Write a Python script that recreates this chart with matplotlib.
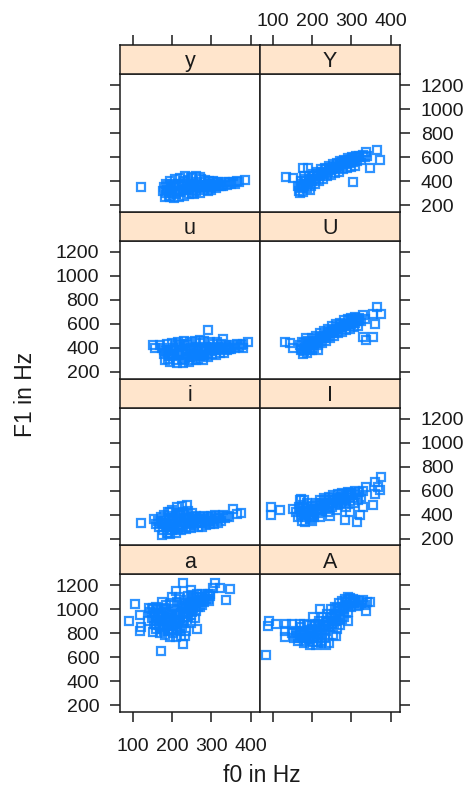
import matplotlib
matplotlib.use('Agg')
import matplotlib.pyplot as plt

plt.rcParams['font.family'] = ['Liberation Sans', 'DejaVu Sans']

# Strip labels, bottom row first (lattice order)
vowels = [['a', 'A'], ['i', 'I'], ['u', 'U'], ['y', 'Y']]

# f0 (Hz) and F1 (Hz) values, per vowel
f0 = {}
f1 = {}

f0['a'] = [105, 92, 118, 122, 118, 152, 152, 173, 228, 228, 211, 249, 262, 232, 309, 304, 338, 347, 321, 296,
           150, 155, 158, 160, 163, 165, 168, 170, 172, 175, 178, 180, 182, 185, 187, 190, 192, 195, 197, 200,
           200, 203, 205, 207, 210, 212, 213, 215, 218, 220, 222, 225, 227, 230, 232, 235, 237, 240, 242, 245,
           248, 250, 252, 255, 258, 260, 262, 265, 268, 270, 273, 276, 280, 283, 287, 290, 293, 296, 185, 175,
           200, 210, 195, 165, 160, 145, 140, 142, 222, 235, 247, 257,
           160, 170, 180, 190, 200, 210, 220, 230, 240, 250, 260, 270, 280, 290, 175, 185, 195, 205, 215, 225,
           235, 245, 255, 265, 275, 170, 180, 190, 200, 210, 220, 230, 240, 250, 160, 155, 150]
f1['a'] = [1043, 905, 955, 850, 823, 1007, 809, 652, 712, 1217, 1153, 1159, 836, 781, 1222, 1181, 1076, 1167, 1181, 1126,
           930, 880, 970, 840, 910, 1000, 870, 800, 950, 900, 840, 1010, 790, 930, 870, 980, 820, 900, 1050, 950,
           860, 800, 1000, 920, 880, 1060, 830, 970, 1100, 910, 1020, 860, 980, 1080, 940, 1030, 900, 1110, 990, 1060,
           950, 1120, 1010, 1080, 1040, 990, 1130, 1060, 1100, 1020, 1080, 1130, 1060, 1110, 1090, 1130, 1070, 1110, 1040, 1060,
           1100, 770, 770, 950, 1020, 980, 900, 1010, 780, 820, 890, 930,
           900, 930, 870, 900, 920, 950, 960, 1000, 1040, 1060, 1050, 1070, 1100, 1090, 980, 1000, 960, 880, 900, 1050,
           960, 1000, 1100, 1020, 1040, 850, 820, 860, 830, 850, 820, 900, 940, 980, 870, 960, 1000]

f0['A'] = [84, 92, 88, 109, 135, 148, 131, 131, 220, 203, 296, 338, 347, 262,
           150, 155, 160, 165, 170, 172, 178, 180, 185, 188, 192, 195, 198, 200, 203, 205, 208, 210, 213, 215,
           218, 220, 222, 225, 228, 230, 232, 235, 238, 240, 242, 245, 248, 250, 252, 255, 258, 260, 262, 265,
           268, 270, 272, 275, 278, 280, 283, 286, 290, 292, 295, 300, 303, 306, 310, 315, 320, 325, 330, 335,
           340, 180, 170, 235, 212, 260, 275, 290,
           160, 170, 180, 190, 200, 210, 220, 230, 240, 250, 260, 270, 280, 290, 300, 185, 195, 205, 215, 225,
           235, 245, 255, 265, 275, 285, 295, 310, 320, 165, 175]
f1['A'] = [616, 905, 864, 878, 878, 878, 823, 768, 1002, 933, 1098, 988, 1057, 1015,
           800, 760, 820, 740, 790, 850, 760, 720, 810, 870, 750, 700, 800, 840, 730, 780, 880, 700, 820, 760,
           900, 850, 720, 790, 940, 870, 760, 820, 960, 900, 720, 850, 1000, 930, 790, 880, 1020, 960, 840, 910,
           1050, 990, 870, 1070, 1010, 940, 1090, 1040, 980, 1100, 1060, 1020, 1090, 1050, 1080, 1030, 1070, 1050, 1080, 1040,
           1060, 880, 880, 700, 730, 780, 920, 900,
           780, 760, 800, 780, 760, 820, 800, 840, 860, 880, 900, 950, 1000, 1030, 1050, 740, 830, 860, 880, 740,
           900, 940, 960, 1000, 1020, 1060, 1080, 1060, 1040, 800, 820]

f0['i'] = [165, 168, 172, 175, 178, 180, 183, 185, 188, 190, 192, 195, 198, 200, 202, 205, 207, 210, 212, 215,
           218, 220, 222, 225, 228, 230, 232, 235, 238, 240, 242, 245, 248, 250, 253, 256, 260, 263, 266, 270,
           273, 276, 280, 283, 286, 290, 293, 296, 300, 303, 306, 310, 313, 316, 320, 325, 330, 335, 340, 345,
           155, 160, 175, 195, 355, 376, 364, 122,
           180, 190, 200, 210, 220, 230, 240, 250, 260, 270, 280, 290, 300, 310, 320, 185, 195, 205, 215, 225,
           235, 245, 255, 265, 275, 285, 170, 190, 200]
f1['i'] = [350, 300, 380, 330, 270, 400, 350, 300, 250, 420, 370, 320, 270, 440, 390, 340, 290, 250, 460, 410,
           360, 310, 270, 470, 420, 370, 320, 280, 480, 430, 380, 330, 290, 410, 360, 310, 390, 340, 300, 380,
           330, 300, 390, 350, 310, 380, 340, 320, 390, 350, 320, 400, 360, 330, 390, 350, 400, 370, 390, 380,
           360, 320, 230, 240, 450, 415, 409, 327,
           320, 300, 360, 380, 400, 340, 300, 340, 330, 340, 360, 350, 360, 370, 370, 360, 420, 300, 280, 300,
           400, 360, 380, 360, 360, 330, 330, 250, 270]

f0['I'] = [97, 97, 118, 152, 173, 181, 283, 313, 296, 321, 355, 330, 359, 376, 368, 359, 372, 338,
           160, 165, 168, 172, 175, 178, 182, 185, 188, 190, 193, 196, 200, 203, 206, 210, 213, 216, 220, 223,
           226, 230, 233, 236, 240, 243, 246, 250, 253, 256, 260, 263, 266, 270, 273, 276, 280, 283, 286, 290,
           293, 296, 300, 303, 306, 310, 313, 316, 320, 325, 330, 170, 180, 200, 220, 245,
           170, 180, 190, 200, 210, 220, 230, 240, 250, 260, 270, 280, 290, 300, 310, 185, 195, 205, 215, 225,
           235, 245, 255, 265, 275, 285, 295, 175]
f1['I'] = [465, 396, 437, 451, 533, 341, 354, 341, 423, 396, 478, 465, 671, 712, 630, 575, 602, 630,
           420, 380, 460, 400, 350, 480, 430, 380, 500, 450, 400, 360, 470, 420, 380, 500, 450, 410, 520, 470,
           430, 540, 490, 450, 420, 550, 500, 460, 560, 520, 480, 440, 570, 530, 490, 580, 540, 500, 460, 590,
           550, 510, 580, 540, 500, 600, 560, 520, 590, 550, 600, 520, 520, 350, 380, 390,
           440, 400, 420, 440, 450, 440, 470, 480, 500, 520, 550, 560, 560, 560, 570, 460, 380, 400, 480, 500,
           520, 520, 540, 500, 510, 520, 580, 420]

f0['u'] = [175, 180, 183, 186, 190, 193, 196, 200, 203, 206, 209, 212, 215, 218, 221, 224, 227, 230, 233, 236,
           239, 242, 245, 248, 251, 254, 257, 260, 263, 266, 270, 273, 276, 279, 282, 285, 288, 291, 295, 298,
           301, 305, 308, 311, 315, 318, 321, 325, 328, 332, 336, 340, 345, 350, 355, 360, 365, 370, 375, 380,
           292, 152, 156, 170, 393, 381, 270, 330,
           185, 195, 205, 215, 225, 235, 245, 255, 265, 275, 285, 295, 305, 315, 325, 335, 345, 190, 200, 210,
           220, 230, 240, 250, 260, 270, 280, 290, 300, 310, 180]
f1['u'] = [400, 350, 300, 430, 380, 330, 280, 440, 400, 350, 300, 270, 450, 410, 360, 310, 270, 460, 420, 370,
           320, 280, 450, 400, 350, 300, 460, 410, 360, 310, 440, 390, 340, 300, 460, 410, 360, 320, 450, 400,
           350, 430, 380, 340, 450, 400, 360, 430, 390, 360, 420, 380, 410, 390, 420, 400, 430, 410, 420, 430,
           547, 423, 396, 420, 451, 396, 465, 478,
           370, 350, 380, 340, 390, 350, 380, 340, 380, 370, 380, 370, 390, 380, 400, 390, 390, 310, 330, 420,
           430, 300, 430, 320, 300, 330, 340, 340, 380, 410, 380]

f0['U'] = [131, 143, 152, 364, 376, 355, 359, 355, 338, 330,
           170, 173, 176, 180, 183, 186, 190, 193, 196, 200, 203, 206, 210, 213, 216, 220, 223, 226, 230, 233,
           236, 240, 243, 246, 250, 253, 256, 260, 263, 266, 270, 273, 276, 280, 283, 286, 290, 293, 296, 300,
           303, 306, 310, 313, 316, 320, 325, 330, 335, 175, 185, 200, 215,
           175, 185, 195, 205, 215, 225, 235, 245, 255, 265, 275, 285, 295, 305, 315, 180, 190, 200, 210, 220,
           230, 240, 250, 260, 270, 280, 290, 300, 310, 320]
f1['U'] = [451, 437, 396, 740, 685, 685, 602, 492, 465, 492,
           420, 380, 350, 440, 400, 360, 460, 420, 380, 480, 440, 400, 500, 460, 420, 520, 480, 440, 540, 500,
           460, 560, 520, 480, 580, 540, 500, 600, 560, 520, 610, 570, 530, 630, 590, 550, 640, 600, 560, 650,
           610, 570, 660, 620, 580, 650, 620, 670, 640, 450, 480, 380, 380,
           390, 410, 430, 450, 470, 490, 510, 530, 550, 570, 590, 600, 620, 630, 640, 370, 400, 420, 440, 460,
           480, 500, 520, 540, 560, 580, 580, 600, 610, 630]

f0['y'] = [178, 182, 185, 188, 191, 195, 198, 201, 204, 208, 211, 214, 217, 221, 224, 227, 230, 234, 237, 240,
           243, 247, 250, 253, 256, 260, 263, 266, 270, 274, 277, 280, 284, 287, 290, 294, 297, 300, 305, 308,
           312, 316, 320, 325, 330, 335, 340, 345, 350, 355, 360, 365, 370, 385, 122, 251, 270,
           185, 195, 205, 215, 225, 235, 245, 255, 265, 275, 285, 295, 305, 315, 325, 190, 200, 210, 220, 230,
           240, 250, 260, 270, 280, 290, 300, 310, 180, 195]
f1['y'] = [320, 270, 380, 330, 280, 400, 350, 300, 260, 420, 370, 320, 270, 430, 380, 330, 280, 440, 390, 340,
           290, 430, 380, 330, 290, 440, 390, 340, 300, 420, 370, 330, 410, 360, 320, 400, 360, 330, 400, 360,
           340, 390, 360, 380, 360, 390, 370, 390, 380, 390, 380, 400, 390, 410, 354, 434, 434,
           300, 320, 350, 380, 360, 330, 350, 360, 370, 350, 350, 340, 370, 370, 360, 360, 380, 290, 310, 400,
           410, 300, 320, 360, 390, 380, 380, 390, 350, 270]

f0['Y'] = [135, 152, 177, 190, 304, 347, 372, 364, 338,
           165, 168, 172, 175, 178, 182, 185, 188, 192, 195, 198, 202, 205, 208, 212, 215, 218, 222, 225, 228,
           232, 235, 238, 242, 245, 248, 252, 255, 258, 262, 265, 268, 272, 275, 278, 282, 285, 288, 292, 295,
           298, 302, 305, 308, 312, 315, 320, 325, 330, 335, 340, 170, 180, 195,
           170, 180, 190, 200, 210, 220, 230, 240, 250, 260, 270, 280, 290, 300, 310, 175, 185, 195, 205, 215,
           225, 235, 245, 255, 265, 275, 285, 295, 305, 320]
f1['Y'] = [437, 423, 506, 506, 396, 506, 580, 657, 644,
           360, 320, 400, 350, 310, 420, 380, 340, 440, 400, 360, 460, 420, 380, 480, 440, 400, 500, 460, 420,
           510, 470, 440, 530, 490, 450, 540, 500, 470, 550, 510, 480, 570, 530, 500, 580, 540, 510, 590, 550,
           520, 600, 560, 530, 610, 570, 600, 580, 620, 600, 610, 300, 440, 330,
           340, 360, 380, 400, 420, 440, 460, 480, 500, 520, 540, 550, 560, 580, 590, 380, 400, 420, 440, 460,
           480, 500, 510, 520, 530, 560, 570, 580, 590, 610]

x_ticks = [100, 200, 300, 400]
y_ticks = [200, 400, 600, 800, 1000, 1200]

W, H = 472, 800
fig = plt.figure(figsize=(W / 100, H / 100), dpi=100)

col_x = [120, 260]
pw = 140
top = 45
row_h = 166.75
strip_h = 29
ph = row_h - strip_h
line_col = '#1a1a1a'
fs = 14

for r in range(4):
    # r = 0 is the bottom row
    row_top = top + (3 - r) * row_h
    for c in range(2):
        v = vowels[r][c]
        x0 = col_x[c] / W
        y0 = 1 - (row_top + row_h) / H
        ax = fig.add_axes([x0, y0, pw / W, ph / H])
        sax = fig.add_axes([x0, y0 + ph / H, pw / W, strip_h / H])

        ax.plot(f0[v], f1[v], ls='none', marker='s', ms=5.8, mfc='none',
                mec='#0a80ff', mew=1.6, alpha=0.85)
        ax.set_xlim(68, 423)
        ax.set_ylim(145, 1292)

        sax.set_facecolor('#ffe5cc')
        sax.set_xlim(68, 423)
        sax.set_ylim(0, 1)
        sax.text(0.5, 0.42, v, transform=sax.transAxes, ha='center',
                 va='center', fontsize=15.5, color='#1a1a1a')
        sax.set_yticks([])

        for a in (ax, sax):
            for s in a.spines.values():
                s.set_color(line_col)
                s.set_linewidth(1.1)

        ax.set_xticks(x_ticks)
        ax.set_yticks(y_ticks)
        ax.tick_params(direction='out', length=7, width=1.1, color=line_col,
                       labelsize=fs, labelcolor='#1a1a1a')
        sax.tick_params(direction='out', length=7, width=1.1, color=line_col,
                        labelsize=fs, labelcolor='#1a1a1a')

        # y ticks on the outer side only, labels alternate between rows
        if c == 0:
            ax.tick_params(axis='y', left=True, right=False,
                           labelleft=(r % 2 == 0), labelright=False, pad=8)
        else:
            ax.tick_params(axis='y', left=False, right=True,
                           labelleft=False, labelright=(r % 2 == 1), pad=8)

        # x ticks on the bottom row and above the top strips
        if r == 0:
            ax.tick_params(axis='x', bottom=True, top=False,
                           labelbottom=(c == 0), labeltop=False, pad=12)
        else:
            ax.tick_params(axis='x', bottom=False, top=False,
                           labelbottom=False, labeltop=False)
        if r == 3:
            sax.set_xticks(x_ticks)
            sax.tick_params(axis='x', bottom=False, top=True,
                            labelbottom=False, labeltop=(c == 1), pad=4)
        else:
            sax.set_xticks([])

fig.text(26 / W, 1 - 394 / H, 'F1 in Hz', rotation=90, ha='center',
         va='center', fontsize=16.5, color='#1a1a1a')
fig.text(262 / W, 1 - 776 / H, 'f0 in Hz', ha='center', va='center',
         fontsize=16.5, color='#1a1a1a')

fig.savefig('out.png', dpi=100)
